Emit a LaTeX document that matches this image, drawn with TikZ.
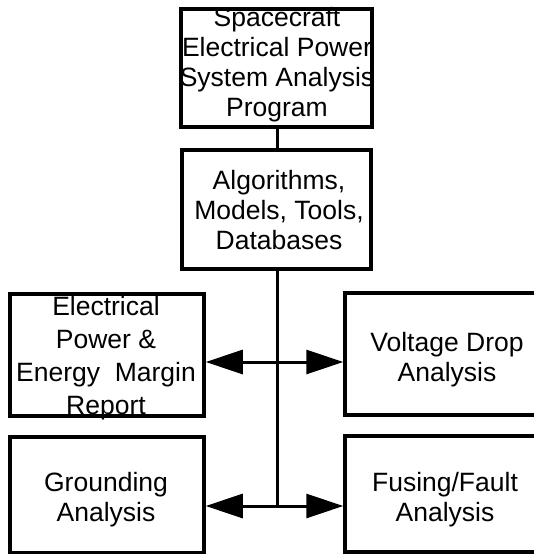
\documentclass[tikz,border=0pt]{standalone}
\usepackage{fontspec}
\setmainfont{Liberation Sans}
\usetikzlibrary{arrows.meta}
\begin{document}
\begin{tikzpicture}[x=1pt,y=-1pt,
  box/.style={draw, line width=3.5pt, inner sep=0pt},
  lbl/.style={align=center, inner sep=0pt, font=\fontsize{26.5}{30}\selectfont},
  link/.style={line width=3pt},
  biarrow/.style={line width=3pt, {Triangle[length=37pt,width=24pt]}-{Triangle[length=37pt,width=24pt]}}]
\useasboundingbox (0,0) rectangle (534,554);
\node[box, minimum width=191pt, minimum height=118pt] (sepsa) at (276.5,68) {};
\node[lbl] (sepsat) at (277,65) {Spacecraft\\Electrical Power\\System Analysis\\Program};
\node[box, minimum width=189pt, minimum height=119pt] (alg) at (276.5,209.5) {};
\node[lbl] (algt) at (279,210) {Algorithms,\\Models, Tools,\\Databases};
\node[box, minimum width=194pt, minimum height=122pt] (epem) at (107,355) {};
\node[lbl, font=\fontsize{26.5}{33}\selectfont] (epemt) at (106,358) {Electrical\\Power \&\\Energy\ \ Margin\\Report};
\node[box, minimum width=200pt, minimum height=122pt] (volt) at (445,354) {};
\node[lbl] (voltt) at (447,360) {Voltage Drop\\Analysis};
\node[box, minimum width=194pt, minimum height=116pt] (ground) at (107,495) {};
\node[lbl] (groundt) at (106,500) {Grounding\\Analysis};
\node[box, minimum width=200pt, minimum height=116pt] (fuse) at (445,494) {};
\node[lbl] (fuset) at (445,500) {Fusing/Fault\\Analysis};
\coordinate (j1) at (277,362);
\coordinate (j2) at (277,506);
\draw[link] (sepsa.south -| j1) -- (alg.north -| j1);
\draw[link] (alg.south -| j1) -- (j2);
\draw[biarrow] (epem.east |- j1) -- (volt.west |- j1);
\draw[biarrow] (ground.east |- j2) -- (fuse.west |- j2);
\end{tikzpicture}
\end{document}
